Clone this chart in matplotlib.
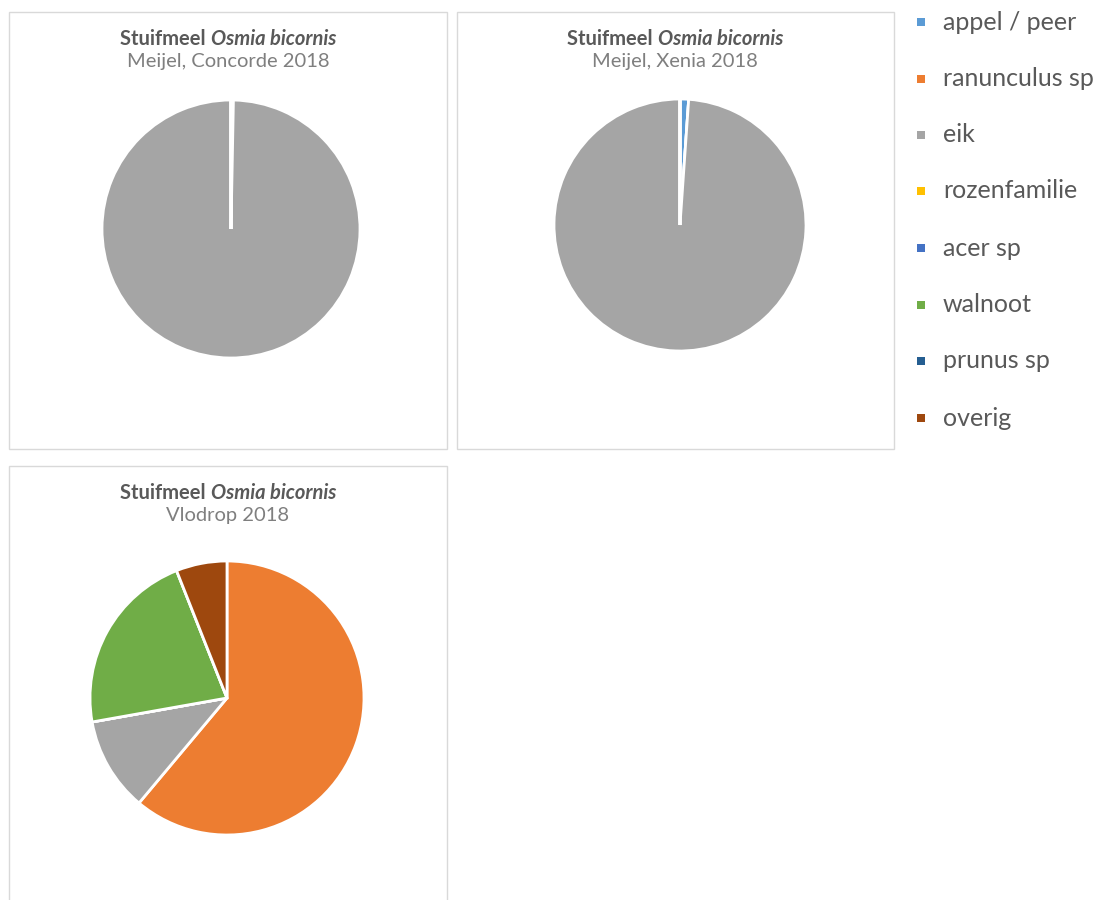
import matplotlib
matplotlib.use("Agg")
import matplotlib.pyplot as plt
from matplotlib.patches import Rectangle

plt.rcParams['font.family'] = ['Lato', 'DejaVu Sans']

# categorieën en kleuren
categories = ["appel / peer", "ranunculus sp", "eik", "rozenfamilie",
              "acer sp", "walnoot", "prunus sp", "overig"]
colors = ["#5B9BD5", "#ED7D31", "#A5A5A5", "#FFC000",
          "#4472C4", "#70AD47", "#255E91", "#9E480E"]

# aandeel stuifmeel per locatie (%)
concorde = [0.3, 0, 99.7, 0, 0, 0, 0, 0]
xenia = [1.1, 0, 98.9, 0, 0, 0, 0, 0]
vlodrop = [0, 61.1, 11.1, 0, 0, 21.8, 0, 6.0]

subtitles = ["Meijel, Concorde 2018", "Meijel, Xenia 2018", "Vlodrop 2018"]

W, H = 1104, 900
fig = plt.figure(figsize=(W / 100, H / 100), dpi=100)
fig.patch.set_facecolor("white")


def px_box(x0, y0, x1, y1):
    # pixelcoördinaten (vanaf linksboven) naar figuur-fracties
    return [x0 / W, 1 - y1 / H, (x1 - x0) / W, (y1 - y0) / H]


# panelen: rand, pie-midden, straal, titel-x
panels = [
    ((9, 12, 447, 449), (231, 229), 129, 228, concorde, subtitles[0]),
    ((457, 12, 894, 449), (680, 225), 126, 675, xenia, subtitles[1]),
    ((9, 466, 447, 905), (227, 698), 137, 228, vlodrop, subtitles[2]),
]

fig.canvas.draw()
renderer = fig.canvas.get_renderer()

for border, (cx, cy), r, tx, values, sub in panels:
    bx = px_box(*border)
    fig.patches.append(Rectangle((bx[0], bx[1]), bx[2], bx[3], transform=fig.transFigure,
                                 fill=False, edgecolor="#D9D9D9", linewidth=1))

    m = r * 1.1
    ax = fig.add_axes(px_box(cx - m, cy - m, cx + m, cy + m))
    ax.pie(values, colors=colors, startangle=90, counterclock=False,
           wedgeprops=dict(edgecolor="white", linewidth=2))
    ax.set_xlim(-1.1, 1.1)
    ax.set_ylim(-1.1, 1.1)
    ax.set_aspect("equal")
    ax.axis("off")

    # titel: "Stuifmeel" vet, "Osmia bicornis" vet cursief
    ty = 1 - (border[1] + 27) / H
    t1 = fig.text(0, ty, "Stuifmeel ", fontsize=14.5, fontweight="bold", color="#595959", va="center")
    t2 = fig.text(0, ty, "Osmia bicornis", fontsize=14.5, fontweight="bold", style="italic",
                  color="#595959", va="center")
    w1 = t1.get_window_extent(renderer).width
    w2 = t2.get_window_extent(renderer).width
    left = tx - (w1 + w2) / 2
    t1.set_x(left / W)
    t2.set_x((left + w1) / W)
    fig.text(tx / W, 1 - (border[1] + 50) / H, sub, fontsize=14.5, color="#7F7F7F",
             ha="center", va="center")

# legenda
leg_y = [22, 79, 135, 191, 248, 305, 361, 418]
for name, col, y in zip(categories, colors, leg_y):
    fig.patches.append(Rectangle(((917) / W, 1 - (y + 4) / H), 8 / W, 8 / H,
                                 transform=fig.transFigure, facecolor=col, edgecolor="none"))
    fig.text(943 / W, 1 - y / H, name, fontsize=18, color="#595959", va="center")

fig.savefig("out.png", dpi=100)
